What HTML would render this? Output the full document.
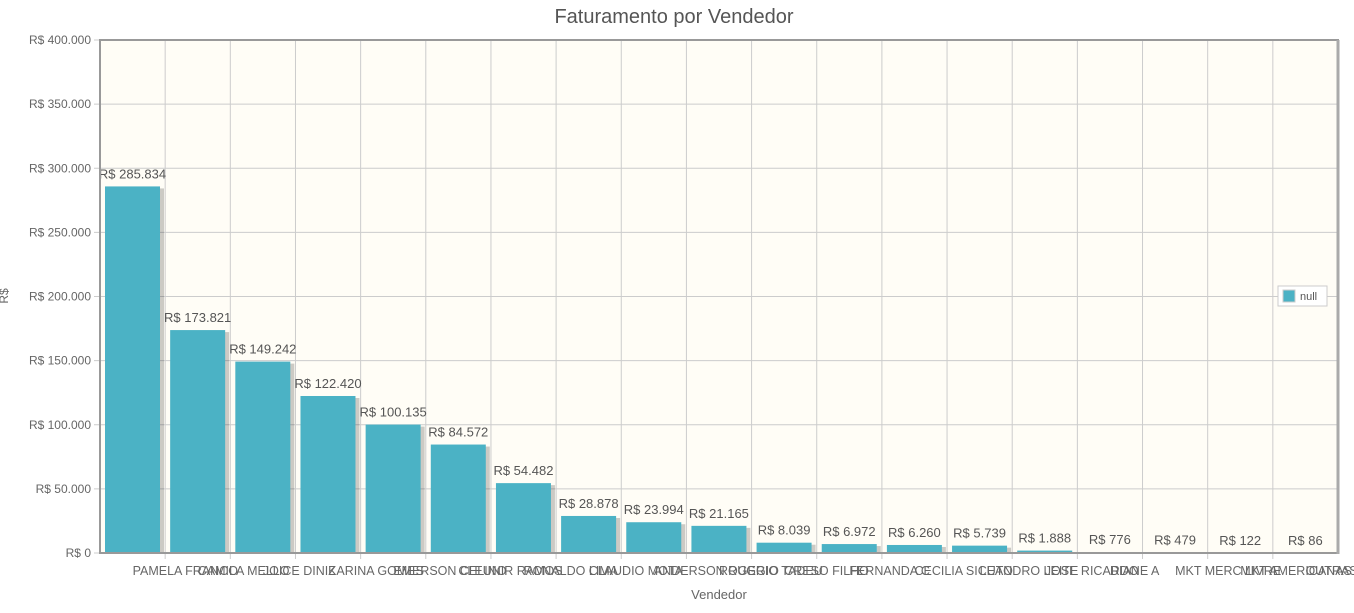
<!DOCTYPE html>
<html><head><meta charset="utf-8"><style>
html,body{margin:0;padding:0;background:#fff;}
svg{display:block;font-family:"Liberation Sans",sans-serif;}
</style></head><body>
<svg width="1354" height="613" xmlns="http://www.w3.org/2000/svg" id="s">
<text x="674" y="23" font-size="20" fill="#555" text-anchor="middle">Faturamento por Vendedor</text>
<rect x="100" y="40" width="1238" height="513" fill="#fffdf6"/>
<g id="g"></g>
<rect x="100" y="40" width="1238" height="513" fill="none" stroke="#999" stroke-width="2"/>
<line x1="1338" y1="40" x2="1338" y2="554" stroke="#aaa" stroke-width="3"/>
<text x="8" y="296" font-size="12" fill="#666" transform="rotate(-90 8 296)" text-anchor="middle">R$</text>
<text x="719" y="599" font-size="13" fill="#666" text-anchor="middle">Vendedor</text>
<rect x="1278" y="286" width="49" height="20" fill="#fff" stroke="#ccc"/>
<rect x="1283" y="290" width="12" height="12" fill="#4bb2c5" stroke="#ccc"/>
<text x="1300" y="300" font-size="11" fill="#555">null</text>
</svg>
<script>
var g=document.getElementById('g'),h='';
var v=[285834,173821,149242,122420,100135,84572,54482,28878,23994,21165,8039,6972,6260,5739,1888,776,479,122,86];
var n=["PAMELA FRANCO","CAMILA MELLO","JOICE DINIZ","KARINA GOMES","EMERSON CELINO","CLEUNIR RAMOS","RONALDO LIMA","CLAUDIO MOTA","ANDERSON RUGGIO","ROGERIO TADEU","CRESO FILHO","FERNANDA C","CECILIA SICUTO","LEANDRO LEITE","JOSE RICARDO","DIANE A","MKT MERC LIVRE","MKT AMERICANAS","OUTRAS"];
var w=1238/19;
for(var i=0;i<=8;i++){var y=40+i*513/8;h+='<line x1="94" y1="'+y+'" x2="1338" y2="'+y+'" stroke="#ccc"/>';
var val=400000-i*50000;h+='<text x="91" y="'+(y+4)+'" font-size="12" fill="#666" text-anchor="end">R$ '+(val==0?'0':val.toLocaleString('de-DE'))+'</text>';}
for(var k=1;k<19;k++){var x=100+w*k;h+='<line x1="'+x+'" y1="40" x2="'+x+'" y2="559" stroke="#ccc"/>';}
function f(x){return x.toLocaleString('de-DE');}
for(var k=0;k<19;k++){var x=100+w*k+5,bh=v[k]*513/400000,y=553-bh;
h+='<rect x="'+(x+2)+'" y="'+(y+2)+'" width="57" height="'+(bh-2)+'" fill="#000" opacity="0.2"/>';
h+='<rect x="'+x+'" y="'+y+'" width="55" height="'+bh+'" fill="#4bb2c5"/>';
var ly=Math.min(y-8,545);h+='<text x="'+(x+27.5)+'" y="'+ly+'" font-size="13" fill="#555" text-anchor="middle">R$ '+f(v[k])+'</text>';
h+='<text x="'+(132.6+w*k)+'" y="575" font-size="12.5" fill="#666">'+n[k]+'</text>';}
g.innerHTML=h;
</script>
</body></html>
